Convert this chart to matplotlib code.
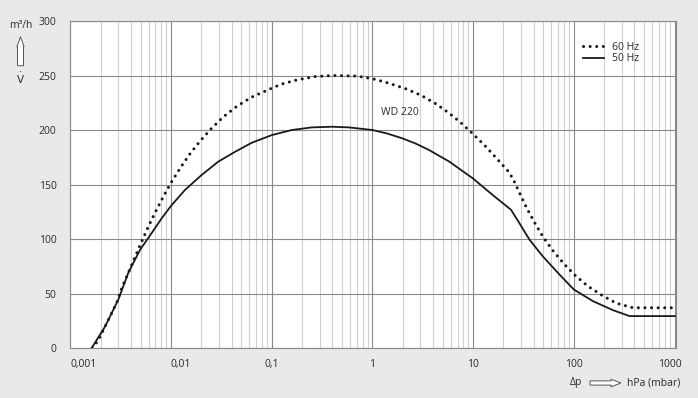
import numpy as np
import matplotlib
matplotlib.use("Agg")
import matplotlib.pyplot as plt
from matplotlib.patches import FancyArrow
from matplotlib.ticker import FixedLocator, LogLocator, NullFormatter

plt.rcParams['font.family'] = ['Open Sans', 'DejaVu Sans']
plt.rcParams['mathtext.fontset'] = 'dejavusans'

# Kennlinie WD 220, Druckdifferenz in hPa (mbar), Volumenstrom in m3/h
p_60 = [0.00165, 0.0019, 0.00242, 0.00289, 0.00328, 0.0038, 0.00442, 0.00515, 0.00601,
        0.0071, 0.00847, 0.01017, 0.01248, 0.01555, 0.01973, 0.02538, 0.033,
        0.0455, 0.0627, 0.0877, 0.124, 0.179, 0.267, 0.403, 0.698, 1.01, 1.45, 2.12,
        3.02, 4.19, 5.68, 7.58, 10.0, 13.2, 17.1, 22.2, 24.7, 28.8, 34.1, 40.9, 49.6,
        61.8, 79.5, 103, 138, 190, 264, 387, 1035]
v_60 = [0, 7.3, 26.9, 41.5, 56.1, 69.8, 84.1, 98.2, 112.2,
        125.9, 139.6, 152.7, 165.8, 178.6, 190.5, 201.7, 212,
        222, 230, 236, 242, 246, 249, 250, 249.5, 247, 243, 238,
        232, 224.5, 216, 206.6, 196.3, 185.3, 174, 162.4, 155.8, 142.6, 128.3, 114.9, 101.8,
        89.5, 77.4, 66.7, 56.7, 48.4, 41.1, 36.9, 36.9]

p_50 = [0.00163, 0.00221, 0.003, 0.00377, 0.00492, 0.00643, 0.00808, 0.01, 0.01377,
        0.02018, 0.0295, 0.0432, 0.0633, 0.1, 0.158, 0.25, 0.4, 0.586, 1.0, 1.4,
        1.99, 2.7, 3.66, 5.8, 9.89, 15.6, 23.8, 28.8, 36.3, 49.2, 72.1, 100, 155, 245,
        358, 1035]
v_50 = [0, 19.5, 44.5, 69, 90, 105.5, 119, 130.4, 145,
        158.8, 171, 180, 188.3, 195.3, 200, 202.4, 203, 202.4, 200, 196.8,
        192.3, 187.5, 181.6, 171, 155.8, 140.5, 126.8, 114.6, 99.4, 84.1, 67.4, 53.7, 43, 34.7,
        29.3, 29.3]

x_ticks = [0.001, 0.01, 0.1, 1, 10, 100, 1000]
x_labels = ['0,001', '0,01', '0,1', '1', '10', '100', '']
y_ticks = [0, 50, 100, 150, 200, 250, 300]

bg = '#e9e9e9'
txt = '#2a2a2a'
fs = 7.5

fig = plt.figure(figsize=(6.98, 3.98), dpi=100, facecolor=bg)
ax = fig.add_axes([0.1007, 0.1256, 0.8678, 0.8216])
ax.set_facecolor('white')
ax.set_xscale('log')
ax.set_xlim(0.001, 1035)
ax.set_ylim(0, 300)

ax.xaxis.set_major_locator(FixedLocator(x_ticks))
ax.xaxis.set_minor_locator(LogLocator(base=10, subs=np.arange(2, 10), numticks=20))
ax.xaxis.set_minor_formatter(NullFormatter())
ax.set_xticks(x_ticks)
ax.set_xticklabels(x_labels)
ax.set_yticks(y_ticks)

ax.grid(which='major', color='#8a8a8a', lw=0.8)
ax.grid(which='minor', axis='x', color='#cfcfcf', lw=0.8)
ax.set_axisbelow(True)
for s in ax.spines.values():
    s.set_color('#8a8a8a')
    s.set_linewidth(0.8)

ax.tick_params(which='both', length=0, labelsize=fs, labelcolor=txt)
ax.tick_params(axis='x', pad=8)
ax.tick_params(axis='y', pad=10)
labels = ax.get_xticklabels()
labels[0].set_ha('left')
labels[1].set_ha('left')
# letzte Beschriftung etwas nach links versetzt
ax.annotate('1000', xy=(x_ticks[-1], 0), xytext=(-3.6, -8), textcoords='offset points',
            ha='center', va='top', fontsize=fs, color=txt, annotation_clip=False)

ax.plot(p_60, v_60, color='#1a1a1a', lw=2.2, linestyle=(0, (0.01, 2.15)),
        dash_capstyle='round', label='60 Hz')
ax.plot(p_50, v_50, color='#1a1a1a', lw=1.3, label='50 Hz')

ax.text(1.22, 214, 'WD 220', fontsize=fs, color=txt)

ax.legend(loc='upper right', bbox_to_anchor=(0.955, 0.965), frameon=False,
          fontsize=fs, handlelength=2.0, handletextpad=0.8, labelspacing=0.05,
          labelcolor=txt)

# Achsbeschriftung links
fig.text(0.030, 0.935, 'm³/h', fontsize=fs, color=txt, ha='center', va='center')
fig.text(0.029, 0.80, r'$\dot{\mathrm{V}}$', fontsize=fs, color=txt, ha='center',
         va='center')
fig.add_artist(FancyArrow(0.205, 3.323, 0, 0.29, width=0.06, head_width=0.072,
                          head_length=0.1, length_includes_head=True,
                          facecolor='white', edgecolor='#555555', lw=0.7,
                          transform=fig.dpi_scale_trans))

# Achsbeschriftung unten
fig.text(0.825, 0.038, 'Δp', fontsize=fs, color=txt, ha='center', va='center')
fig.add_artist(FancyArrow(5.90, 0.15, 0.31, 0, width=0.042, head_width=0.075,
                          head_length=0.1, length_includes_head=True,
                          facecolor='white', edgecolor='#555555', lw=0.7,
                          transform=fig.dpi_scale_trans))
fig.text(0.898, 0.038, 'hPa (mbar)', fontsize=fs, color=txt, ha='left', va='center')

fig.savefig('out.png', dpi=100, facecolor=bg)
